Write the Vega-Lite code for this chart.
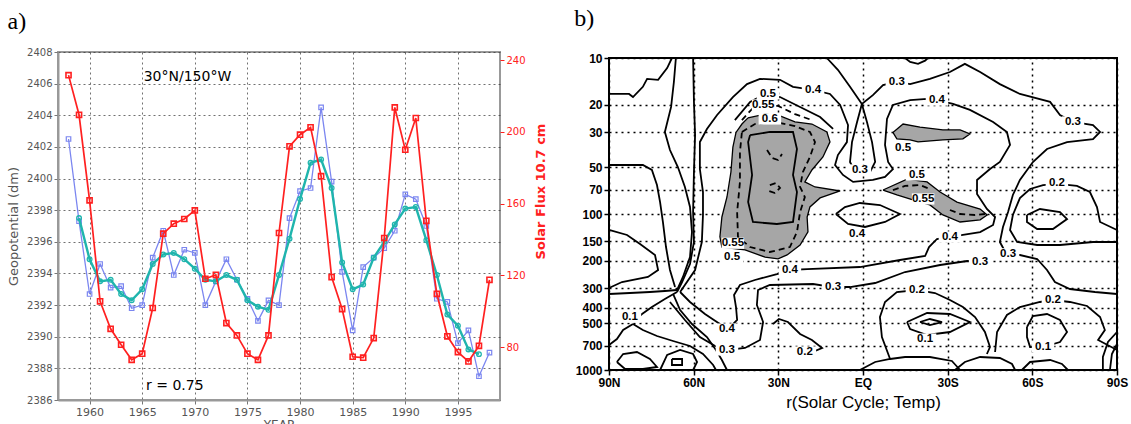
{
"$schema":"https://vega.github.io/schema/vega-lite/v6.json",
"background":"white",
"padding":{"left":6,"top":6,"right":4,"bottom":0},
"spacing":26,
"config":{"view":{"stroke":null},"title":{"anchor":"start","frame":"bounds","font":"Liberation Serif","fontSize":24,"fontWeight":"normal","color":"black"}},
"datasets":{
"series":[
{"year":1958,"geo":2402.5,"smooth":null,"flux":231.6},
{"year":1959,"geo":2397.3,"smooth":2397.5,"flux":209.5},
{"year":1960,"geo":2392.7,"smooth":2394.9,"flux":161.8},
{"year":1961,"geo":2394.6,"smooth":2393.5,"flux":105.5},
{"year":1962,"geo":2393.1,"smooth":2393.6,"flux":90.2},
{"year":1963,"geo":2393.2,"smooth":2392.7,"flux":81.3},
{"year":1964,"geo":2391.8,"smooth":2392.3,"flux":72.9},
{"year":1965,"geo":2392.0,"smooth":2393.0,"flux":76.3},
{"year":1966,"geo":2395.0,"smooth":2394.6,"flux":101.8},
{"year":1967,"geo":2396.7,"smooth":2395.2,"flux":143.2},
{"year":1968,"geo":2393.9,"smooth":2395.3,"flux":148.8},
{"year":1969,"geo":2395.5,"smooth":2394.9,"flux":151.4},
{"year":1970,"geo":2395.3,"smooth":2394.3,"flux":156.2},
{"year":1971,"geo":2392.0,"smooth":2393.6,"flux":118.1},
{"year":1972,"geo":2393.5,"smooth":2393.5,"flux":120.3},
{"year":1973,"geo":2394.9,"smooth":2393.9,"flux":93.4},
{"year":1974,"geo":2393.6,"smooth":2393.6,"flux":86.5},
{"year":1975,"geo":2392.4,"smooth":2392.3,"flux":76.3},
{"year":1976,"geo":2391.0,"smooth":2391.9,"flux":72.9},
{"year":1977,"geo":2392.3,"smooth":2391.7,"flux":86.5},
{"year":1978,"geo":2392.0,"smooth":2393.9,"flux":143.6},
{"year":1979,"geo":2397.5,"smooth":2396.2,"flux":191.9},
{"year":1980,"geo":2399.2,"smooth":2398.7,"flux":198.4},
{"year":1981,"geo":2399.4,"smooth":2401.0,"flux":202.5},
{"year":1982,"geo":2404.5,"smooth":2401.2,"flux":175.3},
{"year":1983,"geo":2399.8,"smooth":2399.4,"flux":119.0},
{"year":1984,"geo":2394.1,"smooth":2394.7,"flux":101.2},
{"year":1985,"geo":2390.4,"smooth":2393.0,"flux":74.6},
{"year":1986,"geo":2394.4,"smooth":2393.3,"flux":74.1},
{"year":1987,"geo":2395.0,"smooth":2395.0,"flux":85.0},
{"year":1988,"geo":2395.6,"smooth":2396.0,"flux":140.8},
{"year":1989,"geo":2396.7,"smooth":2397.1,"flux":213.6},
{"year":1990,"geo":2399.0,"smooth":2398.1,"flux":190.0},
{"year":1991,"geo":2398.7,"smooth":2398.2,"flux":207.7},
{"year":1992,"geo":2397.0,"smooth":2396.1,"flux":150.4},
{"year":1993,"geo":2392.4,"smooth":2393.9,"flux":109.7},
{"year":1994,"geo":2392.2,"smooth":2391.4,"flux":86.0},
{"year":1995,"geo":2389.6,"smooth":2390.7,"flux":77.2},
{"year":1996,"geo":2390.4,"smooth":2389.2,"flux":72.0},
{"year":1997,"geo":2387.5,"smooth":2388.9,"flux":80.7},
{"year":1998,"geo":2389.0,"smooth":null,"flux":117.5}
],
"shade":[
{"id":"S1","lat":40.75,"p":24.2},{"id":"S1","lat":34.7,"p":22.9},{"id":"S1","lat":29.4,"p":23.5},{"id":"S1","lat":24.1,"p":25.7},{"id":"S1","lat":18.1,"p":26.5},{"id":"S1","lat":12.8,"p":29.8},{"id":"S1","lat":11.7,"p":34.5},{"id":"S1","lat":14.2,"p":43.1},{"id":"S1","lat":18.1,"p":52.2},{"id":"S1","lat":20.6,"p":62.3},{"id":"S1","lat":17.0,"p":67.1},{"id":"S1","lat":8.1,"p":71.2},{"id":"S1","lat":15.2,"p":78.9},{"id":"S1","lat":18.8,"p":90.1},{"id":"S1","lat":19.8,"p":104.5},{"id":"S1","lat":19.5,"p":130},{"id":"S1","lat":22.3,"p":158},{"id":"S1","lat":26.9,"p":183},{"id":"S1","lat":30.1,"p":194},{"id":"S1","lat":34.7,"p":189},{"id":"S1","lat":41.8,"p":170},{"id":"S1","lat":50.0,"p":163},{"id":"S1","lat":50.7,"p":140},{"id":"S1","lat":50.0,"p":104.5},{"id":"S1","lat":48.2,"p":77.8},{"id":"S1","lat":46.8,"p":53.8},{"id":"S1","lat":46.1,"p":37.2},{"id":"S1","lat":45.0,"p":30},{"id":"S1","lat":42.9,"p":26.5},{"id":"S1","lat":40.75,"p":24.2},
{"id":"S2","lat":-10.6,"p":30},{"id":"S2","lat":-14.2,"p":26.5},{"id":"S2","lat":-20.2,"p":27.7},{"id":"S2","lat":-28.3,"p":28.9},{"id":"S2","lat":-34.4,"p":28.9},{"id":"S2","lat":-37.9,"p":30.7},{"id":"S2","lat":-35.4,"p":33.0},{"id":"S2","lat":-28.3,"p":33.5},{"id":"S2","lat":-19.5,"p":34.5},{"id":"S2","lat":-16.7,"p":33.5},{"id":"S2","lat":-12.0,"p":33},{"id":"S2","lat":-10.6,"p":30},
{"id":"S3","lat":-7.1,"p":70.2},{"id":"S3","lat":-15.6,"p":59.7},{"id":"S3","lat":-22.7,"p":62.3},{"id":"S3","lat":-27.3,"p":72.3},{"id":"S3","lat":-33.3,"p":83.8},{"id":"S3","lat":-41.5,"p":92.9},{"id":"S3","lat":-44.0,"p":101.4},{"id":"S3","lat":-41.5,"p":109},{"id":"S3","lat":-34.4,"p":112.5},{"id":"S3","lat":-28.3,"p":101.4},{"id":"S3","lat":-23.7,"p":87.5},{"id":"S3","lat":-17.7,"p":81.3},{"id":"S3","lat":-12.0,"p":75.5},{"id":"S3","lat":-7.1,"p":70.2}
],
"solid":[
{"id":"A1","lat":90,"p":17},{"id":"A1","lat":82.9,"p":17},{"id":"A1","lat":81.5,"p":17.8},{"id":"A1","lat":78,"p":15.3},{"id":"A1","lat":76.5,"p":13.6},{"id":"A1","lat":72.6,"p":13.8},{"id":"A1","lat":69.4,"p":11.6},{"id":"A1","lat":67.7,"p":10},
{"id":"A2","lat":66.3,"p":10},{"id":"A2","lat":67.0,"p":14.2},{"id":"A2","lat":68.0,"p":20.6},{"id":"A2","lat":70.2,"p":29.8},{"id":"A2","lat":68.4,"p":38.9},{"id":"A2","lat":65.6,"p":50},{"id":"A2","lat":63.1,"p":67.1},{"id":"A2","lat":61.3,"p":90.2},{"id":"A2","lat":60.6,"p":130.5},{"id":"A2","lat":61.3,"p":188.7},{"id":"A2","lat":63.8,"p":253.4},{"id":"A2","lat":65.9,"p":307.1},
{"id":"A3","lat":60.2,"p":10},{"id":"A3","lat":59.9,"p":19.1},{"id":"A3","lat":59.5,"p":31.2},{"id":"A3","lat":59.9,"p":53.8},{"id":"A3","lat":60.2,"p":97.1},{"id":"A3","lat":59.9,"p":151.2},{"id":"A3","lat":61.3,"p":209.2},{"id":"A3","lat":64.1,"p":272.9},{"id":"A3","lat":65.9,"p":316.2},
{"id":"A4","lat":90,"p":48.5},{"id":"A4","lat":78.0,"p":48.5},{"id":"A4","lat":74.8,"p":52.2},{"id":"A4","lat":73.0,"p":65.2},{"id":"A4","lat":71.9,"p":83.8},{"id":"A4","lat":70.9,"p":112.5},{"id":"A4","lat":69.8,"p":162.8},{"id":"A4","lat":68.4,"p":228.6},{"id":"A4","lat":66.6,"p":293.8},
{"id":"A5","lat":64.8,"p":316.2},{"id":"A5","lat":61.3,"p":366.5},{"id":"A5","lat":56.0,"p":437.5},{"id":"A5","lat":50.7,"p":507.2},{"id":"A5","lat":47.8,"p":546.1},{"id":"A5","lat":44.6,"p":478.1},{"id":"A5","lat":45.0,"p":394.7},{"id":"A5","lat":45.7,"p":330.5},{"id":"A5","lat":43.6,"p":285.2},{"id":"A5","lat":38.3,"p":264.9},{"id":"A5","lat":30.5,"p":242.5},{"id":"A5","lat":25.9,"p":228.6},{"id":"A5","lat":19.8,"p":225.3},{"id":"A5","lat":1.1,"p":218.7},{"id":"A5","lat":-13.1,"p":197.2},{"id":"A5","lat":-22.0,"p":185.9},{"id":"A5","lat":-23.4,"p":162.8},{"id":"A5","lat":-26.2,"p":144.6},{"id":"A5","lat":-30.8,"p":140.4},{"id":"A5","lat":-35.4,"p":136.3},{"id":"A5","lat":-41.5,"p":130.5},{"id":"A5","lat":-46.1,"p":117.6},{"id":"A5","lat":-46.8,"p":104.5},{"id":"A5","lat":-43.9,"p":92.9},{"id":"A5","lat":-40.4,"p":74.4},{"id":"A5","lat":-40.4,"p":60.5},{"id":"A5","lat":-45.0,"p":51.5},{"id":"A5","lat":-48.5,"p":46.4},{"id":"A5","lat":-52.1,"p":36.1},{"id":"A5","lat":-51.0,"p":29.8},{"id":"A5","lat":-46.1,"p":25.7},{"id":"A5","lat":-37.9,"p":21.5},{"id":"A5","lat":-31.9,"p":19.7},{"id":"A5","lat":-26.2,"p":18.6},{"id":"A5","lat":-22.7,"p":18.3},{"id":"A5","lat":-16.7,"p":18.6},{"id":"A5","lat":-10.6,"p":20.0},{"id":"A5","lat":-8.5,"p":24.6},{"id":"A5","lat":-7.8,"p":36.1},{"id":"A5","lat":-8.9,"p":46.4},{"id":"A5","lat":-10.6,"p":51.5},{"id":"A5","lat":-7.8,"p":57.9},{"id":"A5","lat":-3.5,"p":60.5},{"id":"A5","lat":3.5,"p":62.3},{"id":"A5","lat":7.1,"p":56.2},{"id":"A5","lat":9.9,"p":48.5},{"id":"A5","lat":8.9,"p":41.9},{"id":"A5","lat":5.7,"p":34.6},{"id":"A5","lat":5.3,"p":26.9},{"id":"A5","lat":8.1,"p":20.0},{"id":"A5","lat":11.7,"p":17.0},{"id":"A5","lat":17.7,"p":16.0},{"id":"A5","lat":24.8,"p":15.3},{"id":"A5","lat":29.4,"p":13.8},{"id":"A5","lat":36.5,"p":13.6},{"id":"A5","lat":41.1,"p":14.7},{"id":"A5","lat":46.1,"p":17.8},{"id":"A5","lat":51.7,"p":23.2},{"id":"A5","lat":55.3,"p":28.5},{"id":"A5","lat":57.8,"p":34.6},{"id":"A5","lat":57.8,"p":51.5},{"id":"A5","lat":56.7,"p":72.3},{"id":"A5","lat":56.7,"p":101.5},{"id":"A5","lat":57.1,"p":151.2},{"id":"A5","lat":59.5,"p":228.6},{"id":"A5","lat":64.8,"p":316.2},
{"id":"A6a","lat":68.4,"p":366.5},{"id":"A6a","lat":63.1,"p":478.1},{"id":"A6a","lat":57.8,"p":614.5},{"id":"A6a","lat":52.4,"p":701.7},{"id":"A6a","lat":48.2,"p":744.3},{"id":"A6a","lat":41.8,"p":722.7},{"id":"A6a","lat":36.5,"p":642.3},{"id":"A6a","lat":35.4,"p":492.4},{"id":"A6a","lat":37.6,"p":383.1},{"id":"A6a","lat":37.2,"p":307.1},{"id":"A6a","lat":33.0,"p":285.2},{"id":"A6a","lat":17.7,"p":281.0},{"id":"A6a","lat":10.6,"p":293.8},{"id":"A6a","lat":4.6,"p":293.8},{"id":"A6a","lat":-4.3,"p":276.9},{"id":"A6a","lat":-14.9,"p":235.4},{"id":"A6a","lat":-27.3,"p":212.3},{"id":"A6a","lat":-36.9,"p":200.1},{"id":"A6a","lat":-41.5,"p":203.1},
{"id":"A6b","lat":-51.0,"p":183.2},{"id":"A6b","lat":-48.5,"p":151.2},{"id":"A6b","lat":-49.6,"p":121.1},{"id":"A6b","lat":-51.4,"p":97.1},{"id":"A6b","lat":-53.1,"p":75.5},{"id":"A6b","lat":-55.6,"p":60.5},{"id":"A6b","lat":-60.2,"p":46.4},{"id":"A6b","lat":-65.2,"p":38.3},{"id":"A6b","lat":-72.3,"p":34.6},{"id":"A6b","lat":-81.5,"p":33.1},{"id":"A6b","lat":-84.0,"p":29.8},{"id":"A6b","lat":-81.5,"p":26.9},{"id":"A6b","lat":-74.4,"p":25.7},{"id":"A6b","lat":-69.8,"p":23.2},{"id":"A6b","lat":-66.3,"p":19.1},{"id":"A6b","lat":-55.6,"p":17.0},{"id":"A6b","lat":-48.5,"p":14.7},{"id":"A6b","lat":-41.5,"p":12.3},{"id":"A6b","lat":-36.1,"p":10.9},{"id":"A6b","lat":-30.8,"p":12.3},{"id":"A6b","lat":-23.7,"p":13.6},{"id":"A6b","lat":-16.7,"p":14.7},{"id":"A6b","lat":-12.0,"p":14.2},{"id":"A6b","lat":-7.1,"p":14.9},{"id":"A6b","lat":-3.5,"p":17.3},{"id":"A6b","lat":0.4,"p":19.7},{"id":"A6b","lat":4.6,"p":15.3},{"id":"A6b","lat":8.9,"p":11.9},{"id":"A6b","lat":12.8,"p":10},
{"id":"A6c","lat":0.4,"p":19.7},{"id":"A6c","lat":2.1,"p":25.7},{"id":"A6c","lat":3.9,"p":34.6},{"id":"A6c","lat":4.6,"p":46.4},{"id":"A6c","lat":2.8,"p":53.8},{"id":"A6c","lat":0.4,"p":55.4},{"id":"A6c","lat":-2.5,"p":53.8},{"id":"A6c","lat":-4.3,"p":46.4},{"id":"A6c","lat":-3.2,"p":34.6},{"id":"A6c","lat":-1.4,"p":25.7},{"id":"A6c","lat":0.4,"p":19.7},
{"id":"A6d","lat":-51.4,"p":183.2},{"id":"A6d","lat":-55.6,"p":183.2},{"id":"A6d","lat":-61.7,"p":194.3},{"id":"A6d","lat":-65.2,"p":228.6},{"id":"A6d","lat":-68.0,"p":272.9},{"id":"A6d","lat":-73.3,"p":302.6},{"id":"A6d","lat":-82.2,"p":316.2},{"id":"A6d","lat":-90,"p":325.6},
{"id":"A8","lat":-90,"p":151.2},{"id":"A8","lat":-81.5,"p":151.2},{"id":"A8","lat":-69.8,"p":158.0},{"id":"A8","lat":-61.7,"p":158.0},{"id":"A8","lat":-54.6,"p":151.2},{"id":"A8","lat":-52.1,"p":126.6},{"id":"A8","lat":-53.1,"p":101.5},{"id":"A8","lat":-55.6,"p":79.0},{"id":"A8","lat":-59.2,"p":69.1},{"id":"A8","lat":-63.8,"p":65.2},{"id":"A8","lat":-69.1,"p":64.2},{"id":"A8","lat":-75.8,"p":66.1},{"id":"A8","lat":-80.4,"p":72.3},{"id":"A8","lat":-82.9,"p":90.2},{"id":"A8","lat":-84.0,"p":112.5},{"id":"A8","lat":-90,"p":126.6},
{"id":"A9","lat":-58.1,"p":101.5},{"id":"A9","lat":-62.7,"p":92.9},{"id":"A9","lat":-69.8,"p":97.1},{"id":"A9","lat":-72.3,"p":107.7},{"id":"A9","lat":-67.3,"p":124.8},{"id":"A9","lat":-61.7,"p":124.8},{"id":"A9","lat":-58.1,"p":112.5},{"id":"A9","lat":-58.1,"p":101.5},
{"id":"A10a","lat":-90,"p":570.8},{"id":"A10a","lat":-86.8,"p":661.5},{"id":"A10a","lat":-85.0,"p":825.3},{"id":"A10a","lat":-85.0,"p":1000},
{"id":"A10b","lat":-90,"p":681},{"id":"A10b","lat":-88.2,"p":789.6},{"id":"A10b","lat":-87.5,"p":1000},
{"id":"A11","lat":-9.6,"p":850},{"id":"A11","lat":-6.7,"p":614.5},{"id":"A11","lat":-6.0,"p":457.4},{"id":"A11","lat":-7.8,"p":366.5},{"id":"A11","lat":-12.0,"p":316.2},{"id":"A11","lat":-19.1,"p":307.1},{"id":"A11","lat":-25.5,"p":320.9},{"id":"A11","lat":-30.8,"p":355.8},{"id":"A11","lat":-35.4,"p":394.7},{"id":"A11","lat":-39.7,"p":457.4},{"id":"A11","lat":-43.2,"p":570.8},{"id":"A11","lat":-45.0,"p":712.1},{"id":"A11","lat":-43.9,"p":789.6},
{"id":"A12","lat":-15.6,"p":492.4},{"id":"A12","lat":-22.7,"p":431.2},{"id":"A12","lat":-30.8,"p":437.5},{"id":"A12","lat":-37.9,"p":492.4},{"id":"A12","lat":-30.8,"p":570.8},{"id":"A12","lat":-22.7,"p":596.6},{"id":"A12","lat":-16.7,"p":546.1},{"id":"A12","lat":-15.6,"p":492.4},
{"id":"A12b","lat":-20.2,"p":492.4},{"id":"A12b","lat":-23.7,"p":471.1},{"id":"A12b","lat":-28.0,"p":492.4},{"id":"A12b","lat":-23.7,"p":514.7},{"id":"A12b","lat":-20.2,"p":492.4},
{"id":"A13","lat":-46.8,"p":766.6},{"id":"A13","lat":-47.5,"p":570.8},{"id":"A13","lat":-51.0,"p":444.0},{"id":"A13","lat":-55.6,"p":394.7},{"id":"A13","lat":-62.7,"p":366.5},{"id":"A13","lat":-67.3,"p":355.8},{"id":"A13","lat":-73.3,"p":366.5},{"id":"A13","lat":-79.4,"p":388.8},{"id":"A13","lat":-84.0,"p":457.4},{"id":"A13","lat":-85.7,"p":554.2},{"id":"A13","lat":-83.3,"p":642.3},{"id":"A13","lat":-90,"p":744.3},
{"id":"A14","lat":-58.1,"p":530.2},{"id":"A14","lat":-60.2,"p":450.6},{"id":"A14","lat":-65.2,"p":437.5},{"id":"A14","lat":-69.8,"p":478.1},{"id":"A14","lat":-72.3,"p":570.8},{"id":"A14","lat":-69.8,"p":661.5},{"id":"A14","lat":-63.8,"p":712.1},{"id":"A14","lat":-59.2,"p":712.1},{"id":"A14","lat":-58.1,"p":614.5},{"id":"A14","lat":-58.1,"p":530.2},
{"id":"A15a","lat":1.1,"p":1000},{"id":"A15a","lat":-4.3,"p":888.4},{"id":"A15a","lat":-9.6,"p":850},{"id":"A15a","lat":-14.9,"p":825.3},{"id":"A15a","lat":-23.7,"p":825.3},{"id":"A15a","lat":-31.5,"p":875.4},{"id":"A15a","lat":-34.4,"p":1000},
{"id":"A15b","lat":-32.6,"p":1000},{"id":"A15b","lat":-36.1,"p":888.4},{"id":"A15b","lat":-41.5,"p":825.3},{"id":"A15b","lat":-48.5,"p":837.5},{"id":"A15b","lat":-52.8,"p":915},{"id":"A15b","lat":-53.9,"p":1000},
{"id":"A15d","lat":-56.3,"p":1000},{"id":"A15d","lat":-59.2,"p":888.4},{"id":"A15d","lat":-66.3,"p":862.6},{"id":"A15d","lat":-70.5,"p":915},{"id":"A15d","lat":-72.6,"p":1000},
{"id":"A16","lat":31.9,"p":507.2},{"id":"A16","lat":29.8,"p":471.1},{"id":"A16","lat":26.6,"p":492.4},{"id":"A16","lat":22.3,"p":587.9},{"id":"A16","lat":18.1,"p":642.3},{"id":"A16","lat":14.5,"p":722.7},{"id":"A16","lat":18.8,"p":778},{"id":"A16","lat":23.0,"p":778},
{"id":"A18","lat":67.3,"p":325.6},{"id":"A18","lat":64.8,"p":412.6},{"id":"A18","lat":60.6,"p":507.2},{"id":"A18","lat":55.3,"p":614.5},{"id":"A18","lat":52.1,"p":744.3},{"id":"A18","lat":50.0,"p":862.6},{"id":"A18","lat":48.2,"p":1000},
{"id":"A19","lat":90,"p":126.6},{"id":"A19","lat":83.6,"p":136.3},{"id":"A19","lat":79.0,"p":155.7},{"id":"A19","lat":73.7,"p":183.2},{"id":"A19","lat":72.6,"p":228.6},{"id":"A19","lat":76.2,"p":253.4},{"id":"A19","lat":85.4,"p":272.9},{"id":"A19","lat":90,"p":298.2},
{"id":"A20","lat":90,"p":325.6},{"id":"A20","lat":82.6,"p":320.9},{"id":"A20","lat":75.5,"p":316.2},{"id":"A20","lat":70.2,"p":311.6},{"id":"A20","lat":65.9,"p":307.1},
{"id":"A21","lat":65.9,"p":316.2},{"id":"A21","lat":70.2,"p":350.6},{"id":"A21","lat":74.8,"p":394.7},{"id":"A21","lat":78.3,"p":437.5},{"id":"A21","lat":80.8,"p":478.1},
{"id":"A23","lat":81.5,"p":507.2},{"id":"A23","lat":78.0,"p":554.2},{"id":"A23","lat":73.0,"p":605.5},{"id":"A23","lat":67.3,"p":651.8},{"id":"A23","lat":61.3,"p":701.7},{"id":"A23","lat":56.7,"p":789.6},{"id":"A23","lat":53.1,"p":928.6},{"id":"A23","lat":52.1,"p":1000},
{"id":"A24","lat":87.2,"p":888.4},{"id":"A24","lat":85.0,"p":789.6},{"id":"A24","lat":80.1,"p":766.6},{"id":"A24","lat":75.5,"p":850},{"id":"A24","lat":73.0,"p":956.4},{"id":"A24","lat":78.0,"p":985.4},{"id":"A24","lat":84.3,"p":985.4},{"id":"A24","lat":87.2,"p":888.4},
{"id":"A25","lat":71.9,"p":1000},{"id":"A25","lat":69.4,"p":801.3},{"id":"A25","lat":64.8,"p":744.3},{"id":"A25","lat":60.2,"p":789.6},{"id":"A25","lat":58.8,"p":888.4},{"id":"A25","lat":60.2,"p":1000},
{"id":"A26","lat":67.7,"p":850},{"id":"A26","lat":64.1,"p":850},{"id":"A26","lat":64.1,"p":928.6},{"id":"A26","lat":67.7,"p":928.6},{"id":"A26","lat":67.7,"p":850},
{"id":"A27","lat":90,"p":691.4},{"id":"A27","lat":87.2,"p":632.9},{"id":"A27","lat":85.0,"p":554.2},{"id":"A27","lat":81.5,"p":507.2},
{"id":"A30","lat":9.6,"p":100},{"id":"A30","lat":6.4,"p":90.2},{"id":"A30","lat":1.1,"p":85.0},{"id":"A30","lat":-6.0,"p":87.6},{"id":"A30","lat":-13.1,"p":100},{"id":"A30","lat":-7.8,"p":112.5},{"id":"A30","lat":-0.7,"p":121.1},{"id":"A30","lat":5.3,"p":115.9},{"id":"A30","lat":9.6,"p":100},
{"id":"A31","lat":-14.9,"p":10},{"id":"A31","lat":-16.7,"p":10.6},{"id":"A31","lat":-19.5,"p":10.9},{"id":"A31","lat":-22.0,"p":10.4},{"id":"A31","lat":-23.0,"p":10},
{"id":"B3","lat":40.0,"p":31.2},{"id":"B3","lat":33.0,"p":29.8},{"id":"B3","lat":24.8,"p":29.8},{"id":"B3","lat":23.4,"p":38.3},{"id":"B3","lat":24.8,"p":56.2},{"id":"B3","lat":23.4,"p":72.3},{"id":"B3","lat":24.8,"p":112.5},{"id":"B3","lat":30.5,"p":115.9},{"id":"B3","lat":39.0,"p":112.5},{"id":"B3","lat":40.7,"p":83.8},{"id":"B3","lat":39.3,"p":56.2},{"id":"B3","lat":40.7,"p":34.6},{"id":"B3","lat":40.0,"p":31.2},
{"id":"B5","lat":45.4,"p":25.0},{"id":"B5","lat":40.0,"p":19.1},{"id":"B5","lat":34.7,"p":17.0},{"id":"B5","lat":29.4,"p":17.8},{"id":"B5","lat":22.3,"p":20.6},{"id":"B5","lat":15.2,"p":23.9},{"id":"B5","lat":10.6,"p":28.5}
],
"dashed":[
{"id":"B2","lat":42.9,"p":29.8},{"id":"B2","lat":38.3,"p":26.5},{"id":"B2","lat":31.2,"p":25.7},{"id":"B2","lat":24.1,"p":27.3},{"id":"B2","lat":18.8,"p":29.8},{"id":"B2","lat":17.0,"p":34.6},{"id":"B2","lat":18.8,"p":43.1},{"id":"B2","lat":21.3,"p":53.8},{"id":"B2","lat":22.3,"p":67.1},{"id":"B2","lat":20.6,"p":77.8},{"id":"B2","lat":22.3,"p":97.1},{"id":"B2","lat":23.4,"p":130.5},{"id":"B2","lat":25.9,"p":162.8},{"id":"B2","lat":33.0,"p":175.2},{"id":"B2","lat":40.0,"p":162.8},{"id":"B2","lat":44.3,"p":140.4},{"id":"B2","lat":44.6,"p":97.1},{"id":"B2","lat":43.6,"p":62.3},{"id":"B2","lat":43.6,"p":40.1},{"id":"B2","lat":42.9,"p":29.8},
{"id":"B4b","lat":34.0,"p":38.9},{"id":"B4b","lat":32.2,"p":43.8},{"id":"B4b","lat":30.1,"p":45.1},{"id":"B4b","lat":28.7,"p":41.3},
{"id":"B4c","lat":33.0,"p":65.2},{"id":"B4c","lat":30.8,"p":63.3},{"id":"B4c","lat":29.4,"p":68.1},{"id":"B4c","lat":31.2,"p":73.4},{"id":"B4c","lat":33.3,"p":71.2},
{"id":"B6","lat":42.9,"p":25.0},{"id":"B6","lat":39.3,"p":21.2},{"id":"B6","lat":35.4,"p":20.0},{"id":"B6","lat":30.1,"p":20.3},{"id":"B6","lat":24.1,"p":22.9},{"id":"B6","lat":18.1,"p":25.0},
{"id":"B7","lat":-10.6,"p":70.2},{"id":"B7","lat":-14.9,"p":66.1},{"id":"B7","lat":-20.2,"p":65.2},{"id":"B7","lat":-23.7,"p":69.1},
{"id":"B8","lat":-30.8,"p":94.3},{"id":"B8","lat":-34.4,"p":100},{"id":"B8","lat":-39.7,"p":101.5},{"id":"B8","lat":-43.2,"p":100}
],
"labels":[
{"t":"0.4","lat":17.7,"p":16.0},{"t":"0.5","lat":33.7,"p":17.0},{"t":"0.55","lat":35.4,"p":20.0},{"t":"0.6","lat":33.0,"p":24.6},
{"t":"0.3","lat":-12.0,"p":14.2},{"t":"0.4","lat":-26.2,"p":18.6},{"t":"0.3","lat":-74.4,"p":25.7},{"t":"0.5","lat":-14.2,"p":37.8},
{"t":"0.5","lat":-19.1,"p":56.2},{"t":"0.55","lat":-21.3,"p":80.1},{"t":"0.3","lat":1.1,"p":52.2},{"t":"0.2","lat":-68.7,"p":63.3},
{"t":"0.55","lat":46.1,"p":154},{"t":"0.5","lat":46.4,"p":190},{"t":"0.4","lat":25.9,"p":228.6},{"t":"0.3","lat":10.6,"p":293.8},
{"t":"0.4","lat":2.1,"p":134.4},{"t":"0.4","lat":-30.8,"p":140.4},{"t":"0.3","lat":-41.5,"p":203.1},{"t":"0.3","lat":-51.4,"p":180},
{"t":"0.1","lat":82.6,"p":457.4},{"t":"0.4","lat":48.2,"p":546.1},{"t":"0.3","lat":48.2,"p":744.3},{"t":"0.2","lat":20.6,"p":766.6},
{"t":"0.2","lat":-19.1,"p":307.1},{"t":"0.2","lat":-67.3,"p":355.8},{"t":"0.1","lat":-22.0,"p":632.9},{"t":"0.1","lat":-63.8,"p":712.1}
]
},
"hconcat":[
{
"width":442,"height":348,
"title":{"text":"a)","offset":13},
"view":{"stroke":"#999","strokeWidth":2},
"layer":[
{
"data":{"name":"series"},
"transform":[{"fold":["geo","smooth"],"as":["series","value"]}],
"encoding":{
"x":{"field":"year","type":"quantitative","scale":{"domain":[1957,1999],"nice":false,"zero":false},"axis":{"values":[1960,1965,1970,1975,1980,1985,1990,1995],"format":"d","title":"YEAR","titleFont":"DejaVu Sans","titleFontSize":12,"titleFontWeight":"normal","titleColor":"#555","titlePadding":2,"labelFont":"DejaVu Sans","labelFontSize":11,"labelColor":"#555","tickColor":"#777","tickSize":4,"domainColor":"#999","domainWidth":2,"grid":true,"gridColor":"#333","gridDash":[2,3],"gridWidth":1,"gridOpacity":0.7,"labelFlush":false}},
"y":{"field":"value","type":"quantitative","scale":{"domain":[2386,2408],"nice":false,"zero":false},"axis":{"values":[2386,2388,2390,2392,2394,2396,2398,2400,2402,2404,2406,2408],"format":"d","title":"Geopotential (dm)","titleFont":"DejaVu Sans","titleFontSize":13,"titleFontWeight":"normal","titleColor":"#555","titlePadding":6,"labelFont":"DejaVu Sans","labelFontSize":10,"labelColor":"#555","labelOverlap":false,"tickColor":"#777","tickSize":4,"domainColor":"#999","domainWidth":2,"grid":true,"gridColor":"#333","gridDash":[2,3],"gridOpacity":0.7,"labelFlush":false}}
},
"layer":[
{"transform":[{"filter":"datum.series == 'geo'"}],"mark":{"type":"line","color":"#7b86f0","strokeWidth":1.3}},
{"transform":[{"filter":"datum.series == 'geo'"}],"mark":{"type":"point","shape":"square","color":"#7b86f0","filled":false,"size":20,"strokeWidth":1.2,"opacity":1}},
{"transform":[{"filter":"datum.series == 'smooth' && datum.value != null"}],"mark":{"type":"line","color":"#1fb5ad","strokeWidth":2.4}},
{"transform":[{"filter":"datum.series == 'smooth' && datum.value != null"}],"mark":{"type":"point","shape":"circle","color":"#1fb5ad","filled":false,"size":22,"strokeWidth":1.3,"opacity":1}},
{"data":{"values":[{"year":1969.3,"value":2406.4,"label":"30°N/150°W"},{"year":1968.1,"value":2386.9,"label":"r  =  0.75"}]},"mark":{"type":"text","font":"DejaVu Sans","fontSize":14,"color":"black","baseline":"middle","align":"center"},"encoding":{"text":{"field":"label"}}}
]
},
{
"data":{"name":"series"},
"encoding":{"x":{"field":"year","type":"quantitative"},"y":{"field":"flux","type":"quantitative","scale":{"domain":[50.5,244.5],"nice":false,"zero":false},"axis":{"orient":"right","values":[80,120,160,200,240],"format":"d","grid":false,"title":"Solar Flux 10.7 cm","titleAngle":270,"titleX":40,"titleY":139,"titleAlign":"center","titleBaseline":"middle","titleColor":"#ff2020","titleFont":"DejaVu Sans","titleFontSize":13,"titleFontWeight":"bold","titlePadding":6,"labelFont":"DejaVu Sans","labelFontSize":10,"labelColor":"#ff2020","tickColor":"#ff2020","tickSize":4,"domain":false,"labelFlush":false}}},
"layer":[
{"mark":{"type":"line","color":"#ff2020","strokeWidth":1.7}},
{"mark":{"type":"point","shape":"square","color":"#ff2020","filled":false,"size":26,"strokeWidth":1.6,"opacity":1}}
]
}
],
"resolve":{"scale":{"y":"independent"}}
},
{
"title":{"text":"b)","offset":19},
"bounds":"flush",
"spacing":5,
"vconcat":[
{"width":508,"height":1,"data":{"values":[{"k":1}]},"mark":{"type":"point","opacity":0},"encoding":{}},
{
"width":508,"height":312,
"view":{"stroke":"black","strokeWidth":2},
"encoding":{
"x":{"field":"lat","type":"quantitative","scale":{"domain":[90,-90],"nice":false,"zero":false},"axis":{"values":[90,60,30,0,-30,-60,-90],"labelExpr":"datum.value == 0 ? 'EQ' : (abs(datum.value) + (datum.value > 0 ? 'N' : 'S'))","title":"r(Solar Cycle; Temp)","titleFont":"Liberation Sans","titleFontSize":17,"titleFontWeight":"normal","titleColor":"black","titlePadding":6,"labelFont":"Liberation Sans","labelFontSize":12,"labelFontWeight":"bold","labelColor":"black","labelPadding":2,"labelFlush":false,"tickColor":"black","tickSize":5,"tickWidth":1.5,"domain":false,"grid":true,"gridColor":"black","gridDash":[2,4],"gridWidth":1.5}},
"y":{"field":"p","type":"quantitative","scale":{"type":"log","domain":[10,1000],"reverse":true,"nice":false},"axis":{"values":[10,20,30,50,70,100,150,200,300,400,500,700,1000],"format":"d","title":null,"labelFont":"Liberation Sans","labelFontSize":12,"labelFontWeight":"bold","labelColor":"black","labelPadding":2,"labelFlush":false,"labelOverlap":false,"tickColor":"black","tickSize":5,"tickWidth":1.5,"domain":false,"grid":true,"gridColor":"black","gridDash":[2,4],"gridWidth":1.5}}
},
"layer":[
{"data":{"name":"shade"},"mark":{"type":"line","fill":"#a6a6a6","stroke":"black","strokeWidth":1.3},"encoding":{"detail":{"field":"id","type":"nominal"},"order":{"value":null}}},
{"data":{"name":"solid"},"mark":{"type":"line","color":"black","strokeWidth":1.8},"encoding":{"detail":{"field":"id","type":"nominal"},"order":{"value":null}}},
{"data":{"name":"dashed"},"mark":{"type":"line","color":"black","strokeWidth":1.8,"strokeDash":[6,4]},"encoding":{"detail":{"field":"id","type":"nominal"},"order":{"value":null}}},
{"data":{"name":"labels"},"mark":{"type":"point","shape":"M-1.25,-0.62H1.25V0.62H-1.25Z","size":324,"filled":true,"color":"white","opacity":1,"strokeWidth":0}},
{"data":{"name":"labels"},"mark":{"type":"text","font":"Liberation Sans","fontSize":11.5,"fontWeight":"bold","color":"black","baseline":"middle","align":"center"},"encoding":{"text":{"field":"t"}}}
]
}
]
}
]
}
